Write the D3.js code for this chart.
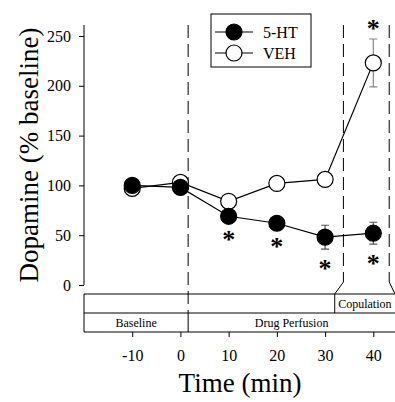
<!DOCTYPE html>
<html><head><meta charset="utf-8">
<script src="https://cdn.jsdelivr.net/npm/d3@7"></script>
<style>body{margin:0;background:#fff}svg{display:block}text{font-family:"Liberation Serif","Times New Roman",serif !important}</style>
</head><body><svg id="c" width="395" height="402"></svg>
<script>
const times = [-10, 0, 10, 20, 30, 40];
const ht5 = [100, 98, 69, 62, 48, 52];
const ht5Err = [3, 3, 4, 4, 12, 11];
const veh = [97, 103, 84, 102, 106, 223];
const vehErr = [3, 3, 3, 3, 3, 24];
const ht5Sig = [false, false, true, true, true, true];
const vehSig = [false, false, false, false, false, true];
const yTicks = [0, 50, 100, 150, 200, 250];
const xTicks = [-10, 0, 10, 20, 30, 40];
const drugStart = 1.6, copStart = 33.8, copEnd = 43.3, copBoxLeft = 32;

const svg = d3.select("#c");
const x = d3.scaleLinear().domain([-20, 44.5]).range([84, 395]);
const y = d3.scaleLinear().domain([0, 250]).range([285, 36]);
const plotTop = 25, boxTop = 294, boxMid = 313, boxBot = 332;
const fmt = d => String(d);

// y axis
const ya = svg.append("g").attr("transform", "translate(84,0)")
  .call(d3.axisLeft(y).tickValues(yTicks).tickFormat(fmt).tickSize(5).tickPadding(8));
ya.attr("font-family", null);
ya.select(".domain").attr("d", `M0,${plotTop}V${y(0)}`);
ya.selectAll("text").attr("font-size", 16);

// x axis at box bottom
const xa = svg.append("g").attr("transform", `translate(0,${boxBot})`)
  .call(d3.axisBottom(x).tickValues(xTicks).tickFormat(fmt).tickSize(5).tickPadding(13));
xa.attr("font-family", null);
xa.select(".domain").remove();
xa.selectAll("text").attr("font-size", 16);

// box
const g = svg.append("g").attr("stroke", "#000").attr("fill", "none").attr("stroke-width", 1);
g.append("path").attr("d", `M${x(-20)},${boxTop}H395M${x(-20)},${boxMid}H395M${x(-20)},${boxBot}H395M${x(-20)},${boxTop}V${boxBot}`);
g.append("path").attr("d", `M${x(drugStart)},${boxMid}V${boxBot}M${x(copBoxLeft)},${boxTop}V${boxMid}`);
// dashed lines
g.append("path").attr("stroke-dasharray", "13,6")
  .attr("d", `M${x(drugStart)},${plotTop}V${boxMid}`);
g.append("path").attr("stroke-dasharray", "13,6")
  .attr("d", `M${x(copStart)},${plotTop}V${282}M${x(copEnd)},${plotTop}V${282}`);
g.append("path").attr("d", `M${x(copStart)},282L${x(copBoxLeft)},${boxTop}M${x(copEnd)},282L${x(44.5)},${boxTop}`);

svg.append("text").attr("x", (x(-20) + x(drugStart)) / 2).attr("y", 327).attr("text-anchor", "middle").attr("font-size", 12).text("Baseline");
svg.append("text").attr("x", (x(drugStart) + 395) / 2).attr("y", 327).attr("text-anchor", "middle").attr("font-size", 12).text("Drug Perfusion");
svg.append("text").attr("x", (x(copBoxLeft) + 395) / 2).attr("y", 308).attr("text-anchor", "middle").attr("font-size", 12).text("Copulation");

// titles
svg.append("text").attr("transform", `translate(38,${(plotTop + 285) / 2}) rotate(-90)`).attr("text-anchor", "middle").attr("font-size", 27).text("Dopamine (% baseline)");
svg.append("text").attr("x", 240).attr("y", 392).attr("text-anchor", "middle").attr("font-size", 27).text("Time (min)");

// series
const line = d3.line().x(d => x(d[0])).y(d => y(d[1]));
function series(vals, errs, fill, errColor) {
  const pts = times.map((t, i) => [t, vals[i]]);
  svg.append("path").attr("d", line(pts)).attr("fill", "none").attr("stroke", "#000").attr("stroke-width", 1.2);
  const eg = svg.append("g").attr("stroke", errColor).attr("stroke-width", 1.2);
  times.forEach((t, i) => {
    const cx = x(t);
    eg.append("path").attr("d", `M${cx},${y(vals[i] - errs[i])}V${y(vals[i] + errs[i])}M${cx - 4},${y(vals[i] + errs[i])}H${cx + 4}M${cx - 4},${y(vals[i] - errs[i])}H${cx + 4}`);
  });
  svg.append("g").selectAll("circle").data(pts).join("circle")
    .attr("cx", d => x(d[0])).attr("cy", d => y(d[1])).attr("r", 8)
    .attr("fill", fill).attr("stroke", "#000").attr("stroke-width", 1.2);
}
series(veh, vehErr, "#fff", "#888");
series(ht5, ht5Err, "#000", "#555");

// significance stars
times.forEach((t, i) => {
  if (ht5Sig[i]) svg.append("text").attr("x", x(t)).attr("y", y(ht5[i] - ht5Err[i]) + 28).attr("text-anchor", "middle").attr("font-size", 26).attr("font-weight", "bold").text("*");
  if (vehSig[i]) svg.append("text").attr("x", x(t)).attr("y", y(veh[i] + vehErr[i]) - 2).attr("text-anchor", "middle").attr("font-size", 26).attr("font-weight", "bold").text("*");
});

// legend
const lg = svg.append("g");
lg.append("rect").attr("x", 211).attr("y", 14).attr("width", 100).attr("height", 53).attr("fill", "#fff").attr("stroke", "#000");
[["5-HT", "#000", 32], ["VEH", "#fff", 53]].forEach(([lab, f, ly]) => {
  lg.append("line").attr("x1", 215).attr("x2", 253).attr("y1", ly).attr("y2", ly).attr("stroke", "#000").attr("stroke-width", 1.2);
  lg.append("circle").attr("cx", 234).attr("cy", ly).attr("r", 8).attr("fill", f).attr("stroke", "#000").attr("stroke-width", 1.2);
  lg.append("text").attr("x", 263).attr("y", ly + 6).attr("font-size", 16).text(lab);
});
</script></body></html>
